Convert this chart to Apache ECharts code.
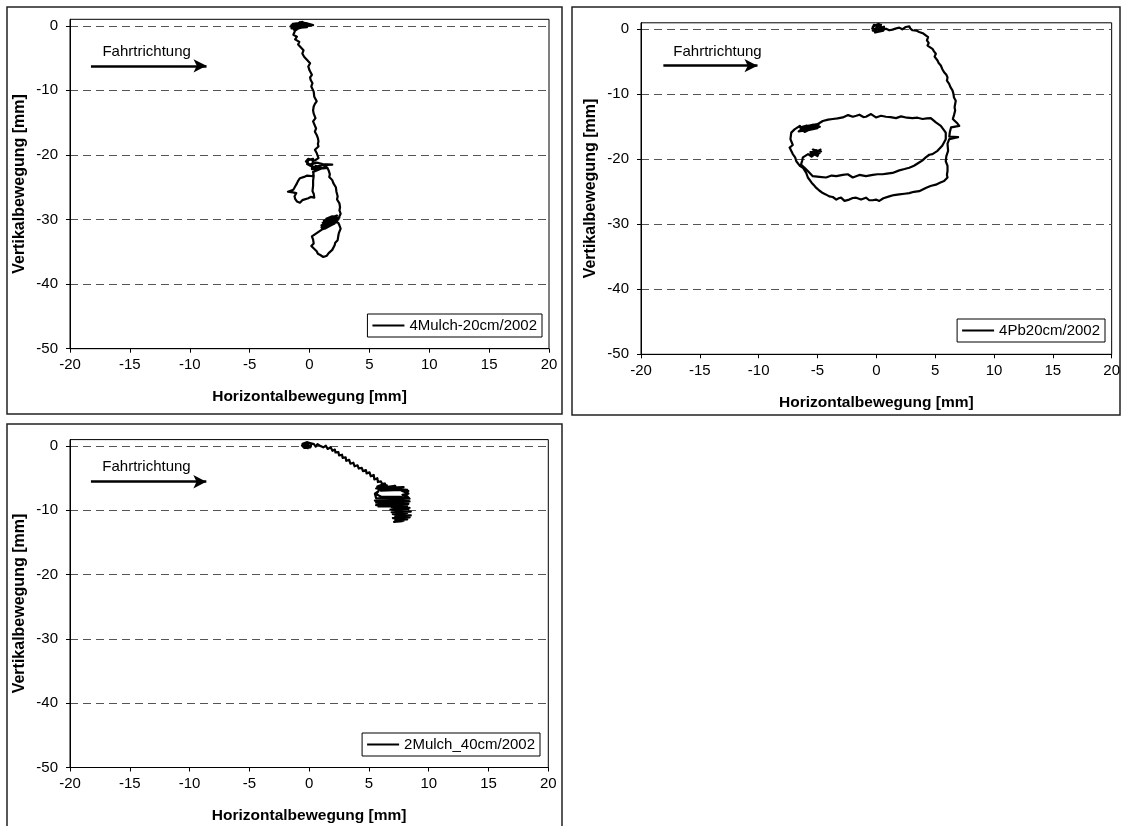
<!DOCTYPE html>
<html>
<head>
<meta charset="utf-8">
<script src="https://cdn.jsdelivr.net/npm/echarts@6/dist/echarts.min.js"></script>
<style>html,body{margin:0;padding:0;background:#fff}#c{width:1123px;height:826px}</style>
</head>
<body>
<div id="c"></div>
<script>
const xTicks = [-20,-15,-10,-5,0,5,10,15,20];
const yTicks = [-50,-40,-30,-20,-10,0];
const seriesNames = ['4Mulch-20cm/2002','4Pb20cm/2002','2Mulch_40cm/2002'];
const annotationText = 'Fahrtrichtung';

const trace1 = [
[0,0],[-0.5,0.5],[-1.4,0.3],[-0.3,0.4],[0.3,0.1],[-1.5,0.1],[-0.4,-0.1],[0.1,0.05],[-1.6,-0.1],[-0.6,0.6],[-1.2,-0.3],[-0.2,-0.2],[-1.5,-0.4],[-0.8,0.55],[-1.3,-0.6],[-0.7,-0.3],[-1.0,0.3],[-1.5,-0.2],[-0.5,0.1],[-1.2,-0.75],
[-1.35,-1.4],[-1.05,-1.7],[-1.2,-2.1],[-0.85,-2.5],[-0.95,-2.9],[-0.8,-3.2],[-0.5,-3.8],[-0.6,-4.3],[-0.45,-4.8],[-0.2,-5.3],[0.05,-5.8],[-0.1,-6.3],[0.0,-6.9],[0.2,-7.6],[0.05,-8.0],[0.1,-8.4],[0.25,-8.9],[0.15,-9.4],[0.35,-10.2],[0.4,-11.0],[0.6,-11.7],[0.45,-12.1],[0.35,-12.5],[0.3,-13.1],[0.35,-13.6],[0.5,-14.3],[0.3,-14.8],[0.35,-15.1],[0.55,-15.9],[0.45,-16.4],[0.6,-16.9],[0.7,-17.4],[0.75,-17.9],[0.7,-18.3],[0.75,-18.7],[0.45,-19.2],[0.6,-19.7],[0.75,-20.5],
[0.4,-20.9],[-0.1,-20.6],[-0.3,-21.0],[0.0,-21.5],[0.6,-21.2],[1.1,-21.4],[1.9,-21.5],[1.0,-21.6],[0.3,-21.9],[-0.2,-21.4],[-0.1,-20.8],[0.3,-20.6],[0.2,-22.2],[0.9,-22.0],[0.5,-21.7],[1.2,-22.1],[1.4,-21.8],
[0.35,-22.6],[0.3,-23.3],[-0.2,-23.2],[-0.45,-23.4],[-0.8,-23.6],[-0.95,-24.0],[-1.05,-24.4],[-1.2,-24.9],[-1.35,-25.4],[-1.8,-25.7],[-1.4,-25.8],[-1.1,-25.9],[-1.25,-26.4],[-1.2,-26.8],[-1.05,-27.2],[-0.8,-27.4],[-0.6,-27.0],[-0.45,-26.7],[-0.1,-26.7],[0.1,-26.5],[0.4,-26.6],[0.35,-26.0],[0.25,-25.6],[0.3,-24.8],[0.3,-24.0],[0.35,-23.2],[0.3,-22.6],[0.9,-22.1],[1.5,-22.0],
[1.6,-22.4],[1.7,-23.0],[1.65,-23.4],[1.9,-23.9],[2.0,-24.4],[2.2,-25.0],[2.25,-25.7],[2.35,-26.4],[2.3,-26.9],[2.5,-27.5],[2.55,-28.1],[2.5,-28.6],[2.6,-29.1],[2.5,-29.5],[2.4,-30.0],
[1.9,-29.5],[1.4,-29.9],[2.3,-29.4],[1.2,-30.2],[2.5,-29.7],[1.1,-30.5],[2.4,-30.0],[1.0,-30.9],[2.3,-30.3],[1.0,-31.2],[2.1,-30.6],[1.1,-31.5],[1.8,-30.9],[1.3,-31.4],[2.0,-30.2],[1.5,-30.7],[1.0,-31.6],
[0.6,-32.1],[0.2,-32.6],[0.3,-33.1],[0.35,-33.7],[0.15,-34.1],[0.25,-34.4],[0.6,-34.9],[0.7,-35.3],[0.9,-35.5],[1.15,-35.8],[1.3,-35.5],[1.45,-35.6],[1.6,-35.2],[1.75,-34.9],[1.9,-34.7],[2.0,-34.4],[2.1,-34.0],[2.15,-33.6],[2.35,-33.2],[2.4,-32.6],[2.45,-32.1],[2.6,-31.4],[2.5,-30.9],[2.4,-30.5],[1.9,-30.3],[1.4,-30.6]
];

const trace2 = [
[0,0],[0.3,0.5],[-0.2,0.7],[-0.35,0.1],[0.1,-0.4],[0.5,0.2],[0.2,0.85],[-0.3,0.4],[-0.1,-0.5],[0.6,-0.2],[0.65,0.4],[-0.3,-0.2],[0.4,0.7],[0.0,0.3],[0.3,-0.3],
[0.82,0.1],[1.1,-0.15],[1.38,-0.05],[1.7,0.15],[1.95,0.26],[2.2,0.0],[2.5,0.35],[2.8,0.46],[2.9,0.1],[3.08,-0.15],[3.4,-0.2],[3.64,-0.41],[3.95,-0.6],[4.2,-0.93],[4.4,-1.2],[4.3,-1.7],[4.45,-2.1],[4.35,-2.5],[4.77,-3.0],[4.9,-3.4],[5.06,-3.76],[4.95,-4.2],[5.2,-4.8],[5.3,-5.2],[5.48,-5.57],[5.6,-6.1],[5.76,-6.6],[5.95,-7.0],[6.05,-7.4],[6.0,-7.9],[6.19,-8.4],[6.3,-8.9],[6.47,-9.4],[6.55,-9.9],[6.6,-10.5],[6.75,-11.0],[6.7,-11.5],[6.65,-12.0],[6.7,-12.5],[6.6,-13.2],[6.5,-13.8],[6.9,-14.5],[7.05,-14.85],
[6.35,-15.1],[6.25,-15.8],[6.2,-16.5],[6.95,-16.6],[6.2,-16.9],
[6.05,-17.6],[6.1,-18.7],[5.95,-19.5],[5.9,-20.3],[6.05,-21.0],[6.05,-21.8],[6.0,-22.4],[6.05,-22.8],[5.76,-23.35],[5.4,-23.6],[5.06,-23.9],[4.6,-24.1],[4.2,-24.4],[3.64,-24.9],[3.2,-25.0],[2.8,-25.2],[2.4,-25.3],[1.95,-25.4],[1.5,-25.5],[1.1,-25.7],[0.6,-26.0],[0.25,-26.4],[-0.03,-26.2],[-0.3,-26.3],[-0.6,-26.3],[-0.88,-25.9],[-1.3,-26.2],[-1.72,-25.9],[-2.0,-25.95],[-2.3,-26.2],[-2.7,-26.4],[-3.0,-25.9],[-3.2,-26.0],[-3.4,-26.2],[-3.7,-25.8],[-4.0,-25.7],[-4.3,-25.4],[-4.55,-25.2],[-4.85,-24.8],[-5.1,-24.4],[-5.3,-24.0],[-5.5,-23.6],[-5.82,-22.8],[-5.96,-22.1],[-6.24,-21.3],[-6.5,-21.0],[-6.8,-20.3],[-6.9,-19.7],[-7.1,-19.2],[-7.37,-18.2],[-7.1,-17.8],[-7.3,-16.9],[-7.23,-15.9],[-6.95,-15.4],[-6.5,-14.85],
[-6.3,-15.6],[-5.6,-14.9],[-6.1,-15.8],[-5.2,-15.0],[-6.4,-15.3],[-4.9,-14.7],[-5.8,-15.5],[-5.0,-15.2],[-6.2,-15.0],[-5.4,-14.7],[-4.8,-15.0],[-5.5,-15.4],[-6.6,-15.7],[-5.9,-14.8],[-6.5,-15.1],[-5.0,-14.6],[-4.55,-14.1],
[-4.1,-13.9],[-3.7,-13.8],[-3.3,-13.7],[-2.85,-13.56],[-2.4,-13.2],[-2.0,-13.45],[-1.7,-13.3],[-1.44,-13.14],[-1.1,-13.5],[-0.88,-13.45],[-0.45,-13.04],[-0.03,-13.56],[0.4,-13.3],[0.82,-13.45],[1.2,-13.5],[1.67,-13.66],[2.1,-13.4],[2.6,-13.6],[3.08,-13.66],[3.5,-13.6],[3.93,-13.8],[4.3,-13.7],[4.63,-13.66],[5.06,-14.33],[5.48,-14.85],[5.7,-15.4],[5.9,-15.9],[5.9,-16.9],[5.6,-17.9],[5.2,-18.7],[4.77,-19.2],[4.5,-19.3],[4.2,-19.7],[3.9,-20.2],[3.64,-20.5],[3.2,-21.0],[2.8,-21.3],[2.4,-21.5],[1.95,-21.7],[1.38,-22.1],[0.9,-22.2],[0.54,-22.3],[0.1,-22.3],[-0.3,-22.4],[-0.88,-22.6],[-1.44,-22.4],[-2.0,-22.8],[-2.43,-22.3],[-2.85,-22.4],[-3.4,-22.6],[-3.8,-22.5],[-4.27,-22.8],[-4.83,-22.7],[-5.4,-22.6],[-5.82,-21.8],
[-6.1,-21.3],[-6.4,-20.8],[-6.3,-20.2],[-6.24,-19.7],[-5.8,-19.2],
[-5.5,-19.6],[-4.9,-18.7],[-5.7,-19.3],[-4.8,-19.0],[-5.4,-18.5],[-4.7,-18.8],[-5.6,-18.9],[-5.0,-19.5],[-4.75,-18.5],[-5.3,-19.2],[-5.1,-18.6],[-4.9,-19.3]
];

const trace3 = [
[0,0],[-0.3,0.3],[-0.6,0.1],[-0.4,-0.3],[0.1,-0.2],[0.2,0.4],[-0.2,0.6],[-0.55,0.35],[-0.1,-0.35],[0.15,0.1],[-0.5,-0.1],[0.0,0.5],
[0.4,0.3],[0.55,-0.1],[0.7,0.3],[0.9,0.05],[1.05,0.25],[1.18,-0.2],[1.4,0.05],[1.55,-0.45],[1.8,-0.2],[1.95,-0.75],[2.15,-0.55],[2.2,-1.0],[2.45,-0.95],[2.5,-1.45],[2.75,-1.35],[2.8,-1.85],[3.05,-1.75],[3.1,-2.3],[3.35,-2.15],[3.45,-2.75],[3.7,-2.6],[3.8,-3.15],[4.05,-3.0],[4.15,-3.5],[4.4,-3.4],[4.5,-3.9],[4.75,-3.75],[4.8,-4.25],[5.05,-4.1],[5.15,-4.7],[5.4,-4.5],[5.45,-5.2],[5.7,-5.0],[5.75,-5.6],[6.0,-5.5],[6.1,-5.9],[6.35,-5.85],
[5.7,-6.3],[6.5,-6.1],[5.6,-6.6],[7.2,-6.2],[5.8,-6.8],[7.9,-6.4],[6.2,-6.5],[8.2,-6.8],[6.0,-6.95],[7.5,-6.6],[8.3,-7.0],[7.7,-6.9],[8.3,-7.4],[7.8,-7.6],[8.2,-7.8],[8.4,-8.2],
[7.6,-7.9],[6.0,-7.85],[5.6,-7.5],[5.8,-7.0],[5.5,-7.4],[5.6,-8.1],[8.2,-8.2],[5.5,-8.5],[7.0,-8.2],[8.4,-8.6],[5.6,-8.8],[7.8,-8.6],[6.2,-8.6],[8.3,-9.0],[5.6,-9.2],[7.2,-8.9],[5.8,-9.4],[8.2,-9.3],[6.5,-9.1],[8.4,-9.6],
[6.9,-9.5],[8.3,-9.8],[6.8,-9.9],[8.5,-10.2],[6.9,-10.3],[8.2,-10.4],[7.0,-10.6],[8.5,-10.8],[7.2,-10.9],[8.4,-11.1],[7.0,-11.2],[8.2,-11.4],[7.2,-11.5],[7.9,-11.6],[7.1,-11.8],[7.8,-11.7]
];

const traces = [trace1, trace2, trace3];
const arrowRows = [
  {text:[-13.6,-4.0], from:[-18.25,-6.2], to:[-8.6,-6.2]},
  {text:[-13.5,-3.45], from:[-18.1,-5.6], to:[-10.1,-5.6]},
  {text:[-13.6,-3.2], from:[-18.25,-5.55], to:[-8.6,-5.55]}
];

const FONT = '"Liberation Sans", Arial, Helvetica, sans-serif';
const grids = [
  {left:70, top:19.3, width:479, height:329.4},
  {left:641, top:22.8, width:472, height:331.5},
  {left:70, top:439.6, width:478.3, height:327.9}
];
const legendPos = [
  {right:581, top:314},
  {right:18, top:319},
  {right:583, top:733}
];

const chart = echarts.init(document.getElementById('c'), null, {renderer:'canvas'});

const option = {
  animation:false,
  backgroundColor:'#fff',
  textStyle:{fontFamily:FONT},
  graphic:[
    {type:'rect', shape:{x:7,y:7,width:555,height:407}, style:{fill:'none', stroke:'#222', lineWidth:1.5}, silent:true},
    {type:'rect', shape:{x:572,y:7,width:548,height:408}, style:{fill:'none', stroke:'#222', lineWidth:1.5}, silent:true},
    {type:'rect', shape:{x:7,y:424,width:555,height:410}, style:{fill:'none', stroke:'#222', lineWidth:1.5}, silent:true}
  ],
  grid: grids.map(g => Object.assign({show:true, borderColor:'#000', borderWidth:1, backgroundColor:'#fff'}, g)),
  xAxis: grids.map((g,i) => ({
    type:'value', gridIndex:i, min:-20, max:20, interval:5,
    name:'Horizontalbewegung [mm]', nameLocation:'middle', nameGap:40,
    nameTextStyle:{fontSize:15.5, fontWeight:'bold', color:'#000', fontFamily:FONT},
    axisLine:{onZero:false, lineStyle:{color:'#000', width:1}},
    axisTick:{show:true, inside:false, length:4, lineStyle:{color:'#000'}},
    axisLabel:{fontSize:15, color:'#000', margin:9, fontFamily:FONT},
    splitLine:{show:false}
  })),
  yAxis: grids.map((g,i) => ({
    type:'value', gridIndex:i, min:-50, max:1, interval:10,
    name:'Vertikalbewegung [mm]', nameLocation:'middle', nameGap:42, nameRotate:90,
    nameTextStyle:{fontSize:16, fontWeight:'bold', color:'#000', fontFamily:FONT},
    axisLine:{onZero:false, lineStyle:{color:'#000', width:1}},
    axisTick:{show:true, inside:false, length:4, lineStyle:{color:'#000'}, customValues:yTicks},
    axisLabel:{fontSize:15, color:'#000', margin:12, fontFamily:FONT, customValues:yTicks},
    splitLine:{show:true, lineStyle:{color:'#555', width:1, type:[8,5]}}
  })),
  legend: legendPos.map((p,i) => Object.assign({
    data:[seriesNames[i]], orient:'horizontal', icon:'rect', itemWidth:32, itemHeight:2,
    padding:[4,5,4,5], borderColor:'#000', borderWidth:1, backgroundColor:'#fff', borderRadius:0,
    textStyle:{fontSize:15, color:'#000', fontFamily:FONT}, selectedMode:false
  }, p)),
  series: traces.map((t,i) => ({
    type:'line', name:seriesNames[i], xAxisIndex:i, yAxisIndex:i, data:t,
    showSymbol:false, symbol:'none', smooth:false, clip:false,
    lineStyle:{color:'#000', width:2.2, join:'round'}, itemStyle:{color:'#000'},
    markLine:{silent:true, symbol:['none','arrow'], symbolSize:[10,13], animation:false,
      lineStyle:{color:'#000', width:2.5, type:'solid'}, label:{show:false},
      data:[[{coord:arrowRows[i].from},{coord:arrowRows[i].to}]]},
    markPoint:{silent:true, symbol:'rect', symbolSize:1, itemStyle:{color:'rgba(0,0,0,0)'}, animation:false,
      label:{show:true, position:'inside', formatter:annotationText, color:'#000', fontSize:15, fontFamily:FONT},
      data:[{coord:arrowRows[i].text}]}
  }))
};
chart.setOption(option);
</script>
</body>
</html>
